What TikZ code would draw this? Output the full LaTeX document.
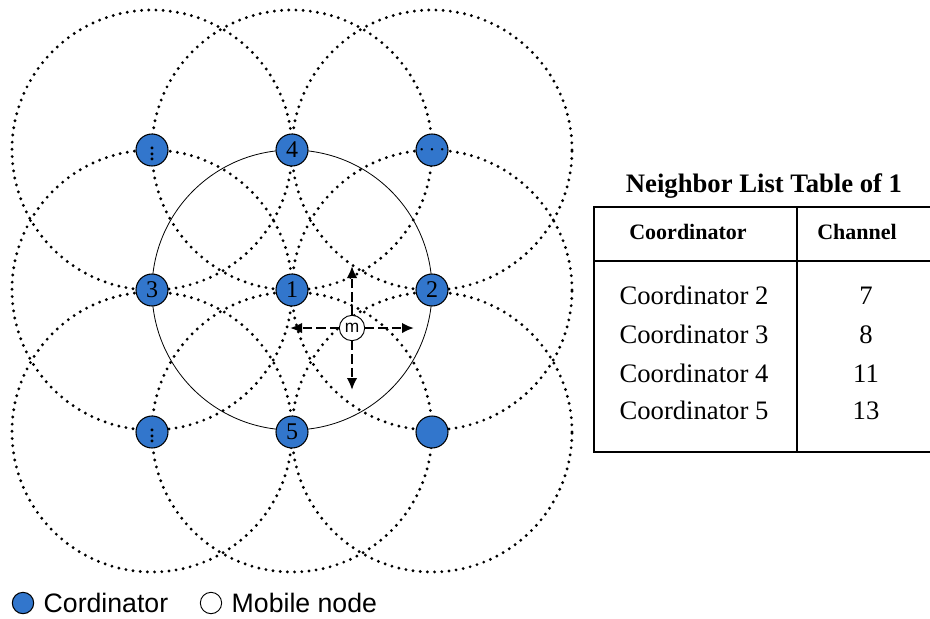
\documentclass[tikz,border=0pt]{standalone}
\usepackage{fontspec}
\setmainfont{Liberation Serif}
\setsansfont{Liberation Sans}
\usetikzlibrary{arrows.meta}

\definecolor{cblue}{RGB}{50,118,204}

\begin{document}
\begin{tikzpicture}[x=0.75pt,y=-0.75pt]

\tikzstyle cnode=[circle, draw=black, line width=0.8pt, fill=cblue, minimum size=24pt, inner sep=0pt, font=\fontsize{18}{18}\selectfont]
\tikzstyle mnode=[circle, draw=black, line width=0.7pt, fill=white, minimum size=19pt, inner sep=0pt, font=\sffamily\fontsize{13}{13}\selectfont]
\tikzstyle cover=[line width=2.4pt, line cap=round, dash pattern=on 0pt off 5.4pt]
\tikzstyle moveline=[-{Latex[length=9pt,width=8pt]}, line width=2pt, dash pattern=on 7pt off 3pt]
\tikzstyle tabcell=[anchor=base, font=\fontsize{20}{20}\selectfont]
\tikzstyle tabhead=[anchor=base, font=\bfseries\fontsize{16.5}{16.5}\selectfont]
\tikzstyle legtext=[anchor=base west, font=\sffamily\fontsize{20}{20}\selectfont]

\useasboundingbox (0,0) rectangle (930,618);

% ranges of the neighbouring coordinators
\foreach \x/\y in {152/150, 292/150, 432/150, 152/290, 432/290, 152/432, 292/432, 432/432}
  \draw [cover] (\x,\y) circle [radius=105pt];

% coordinator 1 and its range
\node (c1) [cnode] at (292,290) {1};
\draw [line width=0.6pt] (c1.center) circle [radius=105pt];

\node (c2) [cnode] at (432,290) {2};
\node (c3) [cnode] at (152,290) {3};
\node (c4) [cnode] at (292,150) {4};
\node (c5) [cnode] at (292,432) {5};
\node (ctl) [cnode] at (152,150) {$\vdots$};
\node (ctr) [cnode] at (432,150) {$\cdots$};
\node (cbl) [cnode] at (152,432) {$\vdots$};
\node (cbr) [cnode] at (432,432) {};

% mobile node and its moves
\node (m) [mnode] at (352,328) {m};
\coordinate (mu) at (352,266);
\coordinate (md) at (352,390);
\coordinate (ml) at (290,328);
\coordinate (mr) at (414,328);
\foreach \t in {mu,md,ml,mr}
  \draw [moveline] (m) -- (\t);

% neighbor list table
\node (title) [anchor=base, font=\bfseries\fontsize{20}{20}\selectfont] at (764,192) {Neighbor List Table of 1};
\draw [line width=0.8pt] (930,207) -- (594,207) -- (594,452) -- (930,452);
\draw [line width=0.8pt] (594,261) -- (930,261);
\draw [line width=0.8pt] (797,207) -- (797,452);
\node (hc) [tabhead] at (688,239) {Coordinator};
\node (hch) [tabhead] at (857,239) {Channel};
\foreach \n/\ch/\y in {2/7/304, 3/8/343, 4/11/382, 5/13/419}
{
\node (r\n) [tabcell] at (694,\y) {Coordinator \n};
\node (ch\n) [tabcell] at (866,\y) {\ch};
}

% legend
\node (lc) [cnode, minimum size=16pt] at (23,603) {};
\node (lct) [legtext] at (39,612) {Cordinator};
\node (lm) [mnode, minimum size=16pt] at (211,603) {};
\node (lmt) [legtext] at (227,612) {Mobile node};

\end{tikzpicture}
\end{document}
